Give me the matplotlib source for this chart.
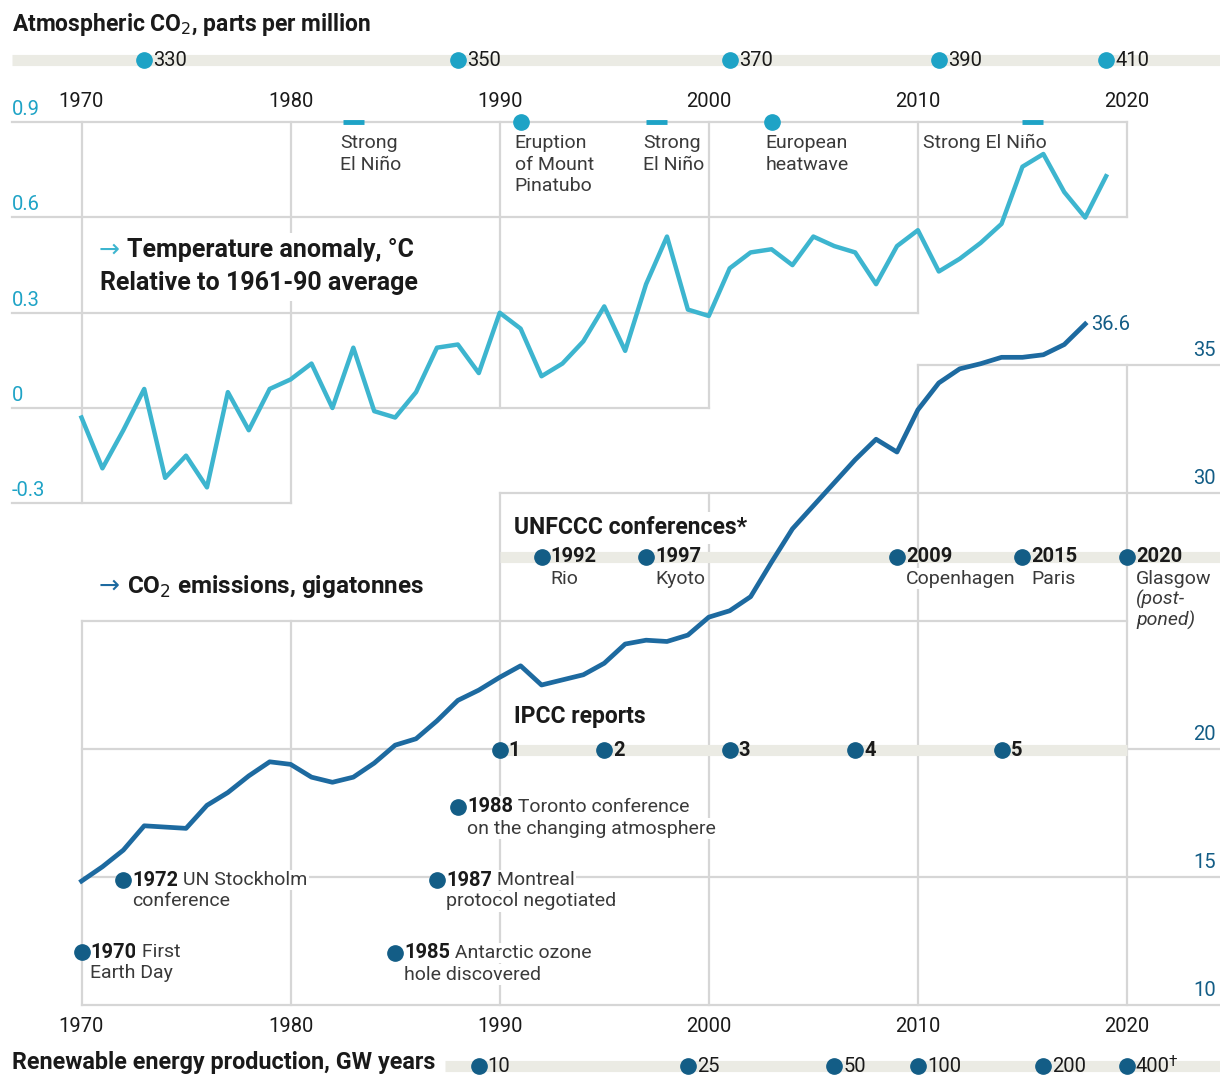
import matplotlib
matplotlib.use('Agg')
import matplotlib.pyplot as plt
from matplotlib import font_manager

# ---- data -------------------------------------------------------------
temp_years = list(range(1970, 2020))
temp_anomaly = [-0.03, -0.19, -0.07, 0.06, -0.22, -0.15, -0.25, 0.05, -0.07, 0.06,
                0.09, 0.14, 0.00, 0.19, -0.01, -0.03, 0.05, 0.19, 0.20, 0.11,
                0.30, 0.25, 0.10, 0.14, 0.21, 0.32, 0.18, 0.39, 0.54, 0.31,
                0.29, 0.44, 0.49, 0.50, 0.45, 0.54, 0.51, 0.49, 0.39, 0.51,
                0.56, 0.43, 0.47, 0.52, 0.58, 0.76, 0.80, 0.68, 0.60, 0.73]

emis_years = list(range(1970, 2019))
emissions = [14.84, 15.4, 16.05, 17.0, 16.95, 16.9, 17.8, 18.3, 18.95, 19.5,
             19.4, 18.9, 18.7, 18.9, 19.45, 20.15, 20.4, 21.1, 21.9, 22.3,
             22.8, 23.25, 22.5, 22.7, 22.9, 23.35, 24.1, 24.25, 24.2, 24.45,
             25.15, 25.4, 25.95, 27.3, 28.6, 29.5, 30.4, 31.3, 32.1, 31.6,
             33.25, 34.3, 34.85, 35.05, 35.3, 35.3, 35.4, 35.8, 36.6]

co2_years = [1973, 1988, 2001, 2011, 2019]
co2_ppm = ['330', '350', '370', '390', '410']

renew_years = [1989, 1999, 2006, 2010, 2016, 2020]
renew_gw = ['10', '25', '50', '100', '200', '400']

unfccc_years = [1992, 1997, 2009, 2015, 2020]
unfccc_places = ['Rio', 'Kyoto', 'Copenhagen', 'Paris', 'Glasgow']

ipcc_years = [1990, 1995, 2001, 2007, 2014]
ipcc_reports = ['1', '2', '3', '4', '5']

elnino_spans = [(1982.5, 1983.5), (1997, 1998), (2015, 2016)]
elnino_labels = ['Strong\nEl Niño', 'Strong\nEl Niño', 'Strong El Niño']
temp_events_years = [1991, 2003]
temp_events_labels = ['Eruption\nof Mount\nPinatubo', 'European\nheatwave']

other_years = [1970, 1972, 1985, 1987, 1988]
other_first = ['First', 'UN Stockholm', 'Antarctic ozone', 'Montreal', 'Toronto conference']
other_second = ['Earth Day', 'conference', 'hole discovered', 'protocol negotiated',
                'on the changing atmosphere']
other_rows = [952, 880, 953, 880, 807]   # pixel rows of the annotations

decades = [1970, 1980, 1990, 2000, 2010, 2020]
temp_ticks = [0.9, 0.6, 0.3, 0.0, -0.3]
temp_tick_labels = ['0.9', '0.6', '0.3', '0', '-0.3']
emis_ticks = [35, 30, 20, 15, 10]

# ---- styling ----------------------------------------------------------
W, H = 1220, 1076
names = {f.name for f in font_manager.fontManager.ttflist}
main_font = 'Liberation Sans Narrow' if 'Liberation Sans Narrow' in names else 'Roboto'
plt.rcParams['font.family'] = [main_font, 'DejaVu Sans']

CYAN = '#3db5cf'
CYAN_DOT = '#1ea3c6'
BLUE = '#1d6aa0'
DARK = '#135d86'
GRID = '#d6d6d6'
BAND = '#ebebe4'
INK = '#1a1a1a'
NOTE = dict(color='#3a3a3a', fontsize=14, weight='normal')
WHITE = dict(fc='white', ec='none', pad=1)

# pixel calibration of the original picture
PX_YEAR = 20.91
X0 = 1970 - 81.5 / PX_YEAR
X1 = 1970 + (W - 81.5) / PX_YEAR
PX_T = 317.5
T0, T1 = -(H - 408) / PX_T, 408 / PX_T
PX_E = 25.6
E0, E1 = 10 - (H - 1005) / PX_E, 10 + 1005 / PX_E


def fy(p):
    return 1 - p / H


def fx(p):
    return p / W


fig = plt.figure(figsize=(W / 100, H / 100), dpi=100)
ax_t = fig.add_axes([0, 0, 1, 1])
ax_t.set_xlim(X0, X1)
ax_t.set_ylim(T0, T1)
ax_t.axis('off')
ax_e = fig.add_axes([0, 0, 1, 1], sharex=ax_t)
ax_e.set_ylim(E0, E1)
ax_e.axis('off')
ax_e.patch.set_visible(False)
bt = ax_t.get_xaxis_transform()
be = ax_e.get_xaxis_transform()

x_left = X0 + 12 / PX_YEAR

# temperature grid (staircase)
t_right = [2020, 2020, 2010, 2000, 1980]
for v, r in zip(temp_ticks, t_right):
    ax_t.plot([x_left, r], [v, v], color=GRID, lw=1.6, zorder=1)
t_bottom = [-0.3, -0.3, 0.0, 0.0, 0.3, 0.6]
for d, b in zip(decades, t_bottom):
    ax_t.plot([d, d], [0.9, b], color=GRID, lw=1.6, zorder=1)
for v, s in zip(temp_ticks, temp_tick_labels):
    ax_t.annotate(s, (x_left, v), xytext=(0, 3), textcoords='offset pixels',
                  ha='left', va='bottom', color=CYAN_DOT, fontsize=14.5)

# emissions grid
e_levels = [35, 30, 25, 20, 15, 10]
e_left = [2010, 1990, 1970, 1970, 1970, 1970]
e_right = [X1, X1, 2020, X1, X1, X1]
for v, l, r in zip(e_levels, e_left, e_right):
    ax_e.plot([l, r], [v, v], color=GRID, lw=1.6, zorder=1)
e_top = [25, 25, 30, 30, 35, 35]
for d, t in zip(decades, e_top):
    ax_e.plot([d, d], [t, 10], color=GRID, lw=1.6, zorder=1)
for v in emis_ticks:
    ax_e.annotate(str(v), (X1, v), xytext=(-4, 5), textcoords='offset pixels',
                  ha='right', va='bottom', color=DARK, fontsize=14.5)

# year labels top and bottom
for d in decades:
    ax_t.annotate(str(d), (d, 0.9), xytext=(0, 21), textcoords='offset pixels',
                  ha='center', va='center', color=INK, fontsize=14.5)
    ax_e.annotate(str(d), (d, 10), xytext=(0, -22), textcoords='offset pixels',
                  ha='center', va='center', color=INK, fontsize=14.5)

# ---- lines --------------------------------------------------------------
ax_t.plot(temp_years, temp_anomaly, color=CYAN, lw=3.2, zorder=3)
ax_e.plot(emis_years, emissions, color=BLUE, lw=3.4, zorder=6)
ax_e.annotate(f'{emissions[-1]:.1f}', (emis_years[-1], emissions[-1]),
              xytext=(6, 0), textcoords='offset pixels', ha='left', va='center',
              color=DARK, fontsize=14.5)

# series labels
fig.text(fx(99), fy(250), '→', color=CYAN, fontsize=18, va='center', ha='left')
fig.text(fx(127), fy(250), 'Temperature anomaly, °C', color=INK, fontsize=18,
         weight='bold', va='center', ha='left',
         bbox=dict(fc='white', ec='none', pad=4))
fig.text(fx(100), fy(283), 'Relative to 1961-90 average', color=INK, fontsize=18,
         weight='bold', va='center', ha='left',
         bbox=dict(fc='white', ec='none', pad=4))
fig.text(fx(99), fy(586), '→', color=BLUE, fontsize=18, va='center', ha='left')
fig.text(fx(127), fy(586), 'CO$_2$ emissions, gigatonnes', color=INK, fontsize=17.5,
         weight='bold', va='center', ha='left')

# ---- temperature events ----------------------------------------------------
for (a, b), s in zip(elnino_spans, elnino_labels):
    ax_t.plot([a, b], [0.9, 0.9], color=CYAN_DOT, lw=3.5, solid_capstyle='butt', zorder=4)
    if '\n' in s:
        ax_t.annotate(s, (a, 0.9), xytext=(-3, -12), textcoords='offset pixels',
                      ha='left', va='top', linespacing=1.25, **NOTE)
    else:
        ax_t.annotate(s, (b, 0.9), xytext=(3, -12), textcoords='offset pixels',
                      ha='right', va='top', linespacing=1.25, **NOTE)
ax_t.plot(temp_events_years, [0.9] * len(temp_events_years), 'o', color=CYAN_DOT,
          ms=11, zorder=5)
for yr, s in zip(temp_events_years, temp_events_labels):
    ax_t.annotate(s, (yr, 0.9), xytext=(-6, -12), textcoords='offset pixels',
                  ha='left', va='top', linespacing=1.25, **NOTE)

# ---- CO2 concentration band (top) ----------------------------------------
fig.text(fx(12), fy(25), 'Atmospheric CO$_2$, parts per million', color=INK,
         fontsize=16.5, weight='bold', va='center', ha='left')
ax_t.plot([x_left, X1], [fy(60), fy(60)], transform=bt, color=BAND, lw=8,
          solid_capstyle='butt', zorder=1)
ax_t.plot(co2_years, [fy(60)] * len(co2_years), 'o', transform=bt, color=CYAN_DOT,
          ms=11, zorder=5)
for yr, s in zip(co2_years, co2_ppm):
    ax_t.annotate(s, (yr, fy(60)), xycoords=bt, xytext=(9, 0),
                  textcoords='offset pixels', ha='left', va='center',
                  color=INK, fontsize=14.5)

# ---- renewables band (bottom) ---------------------------------------------
fig.text(fx(12), fy(1063), 'Renewable energy production, GW years', color=INK,
         fontsize=16.8, weight='bold', va='center', ha='left')
ax_e.plot([X0 + 445 / PX_YEAR, X1], [fy(1066), fy(1066)], transform=be, color=BAND,
          lw=8, solid_capstyle='butt', zorder=2)
ax_e.plot(renew_years, [fy(1066)] * len(renew_years), 'o', transform=be, color=DARK,
          ms=11, zorder=5)
for yr, s in zip(renew_years, renew_gw):
    t = ax_e.annotate(s, (yr, fy(1066)), xycoords=be, xytext=(9, 0),
                      textcoords='offset pixels', ha='left', va='center',
                      color=INK, fontsize=14.5)
    if s == renew_gw[-1]:
        ax_e.annotate('†', (1, 1), xycoords=t, xytext=(-2, 1),
                      textcoords='offset pixels', ha='left', va='top',
                      color=INK, fontsize=11)

# ---- UNFCCC conferences ---------------------------------------------------
ax_e.annotate('UNFCCC conferences*', (fx(514), fy(528)), xycoords='figure fraction',
              color=INK, fontsize=16.5, weight='bold', va='center', ha='left',
              bbox=dict(fc='white', ec='none', pad=3), zorder=4)
ax_e.plot([1990, X1], [fy(557), fy(557)], transform=be, color=BAND, lw=8,
          solid_capstyle='butt', zorder=2)
ax_e.plot(unfccc_years, [fy(557)] * len(unfccc_years), 'o', transform=be,
          color=DARK, ms=11, zorder=7)
for yr, place in zip(unfccc_years, unfccc_places):
    t = ax_e.annotate(str(yr), (yr, fy(557)), xycoords=be, xytext=(9, 0),
                      textcoords='offset pixels', ha='left', va='center',
                      color=INK, fontsize=14.5, weight='bold', zorder=4)
    p = ax_e.annotate(place, (0, 0), xycoords=t, xytext=(0, -3),
                      textcoords='offset pixels', ha='left', va='top',
                      bbox=WHITE, zorder=4, **NOTE)
    if yr == 2020:
        ax_e.annotate('(post-\nponed)', (0, 0), xycoords=p, xytext=(0, -2),
                      textcoords='offset pixels', ha='left', va='top',
                      style='italic', linespacing=1.15, bbox=WHITE, zorder=4, **NOTE)

# ---- IPCC reports ---------------------------------------------------------
ax_e.annotate('IPCC reports', (fx(514), fy(717)), xycoords='figure fraction',
              color=INK, fontsize=16.5, weight='bold', va='center', ha='left',
              bbox=dict(fc='white', ec='none', pad=3), zorder=4)
ax_e.plot([1990, 2020], [fy(750), fy(750)], transform=be, color=BAND, lw=8,
          solid_capstyle='butt', zorder=2)
ax_e.plot(ipcc_years, [fy(750)] * len(ipcc_years), 'o', transform=be,
          color=DARK, ms=11, zorder=7)
for yr, s in zip(ipcc_years, ipcc_reports):
    ax_e.annotate(s, (yr, fy(750)), xycoords=be, xytext=(9, 0),
                  textcoords='offset pixels', ha='left', va='center',
                  color=INK, fontsize=14.5, weight='bold', zorder=4)

# ---- other milestones -----------------------------------------------------
ax_e.plot(other_years, [fy(r) for r in other_rows], 'o', transform=be,
          color=DARK, ms=11, zorder=7)
for yr, r, a, b in zip(other_years, other_rows, other_first, other_second):
    t = ax_e.annotate(str(yr), (yr, fy(r)), xycoords=be, xytext=(9, 0),
                      textcoords='offset pixels', ha='left', va='center',
                      color=INK, fontsize=14.5, weight='bold',
                      bbox=WHITE, zorder=4)
    ax_e.annotate(' ' + a, (1, 0.5), xycoords=t, ha='left', va='center',
                  bbox=WHITE, zorder=4, **NOTE)
    ax_e.annotate(b, (0, 0), xycoords=t, xytext=(0, -3), textcoords='offset pixels',
                  ha='left', va='top', bbox=WHITE, zorder=4, **NOTE)

fig.savefig('out.png', dpi=100, facecolor='white')
